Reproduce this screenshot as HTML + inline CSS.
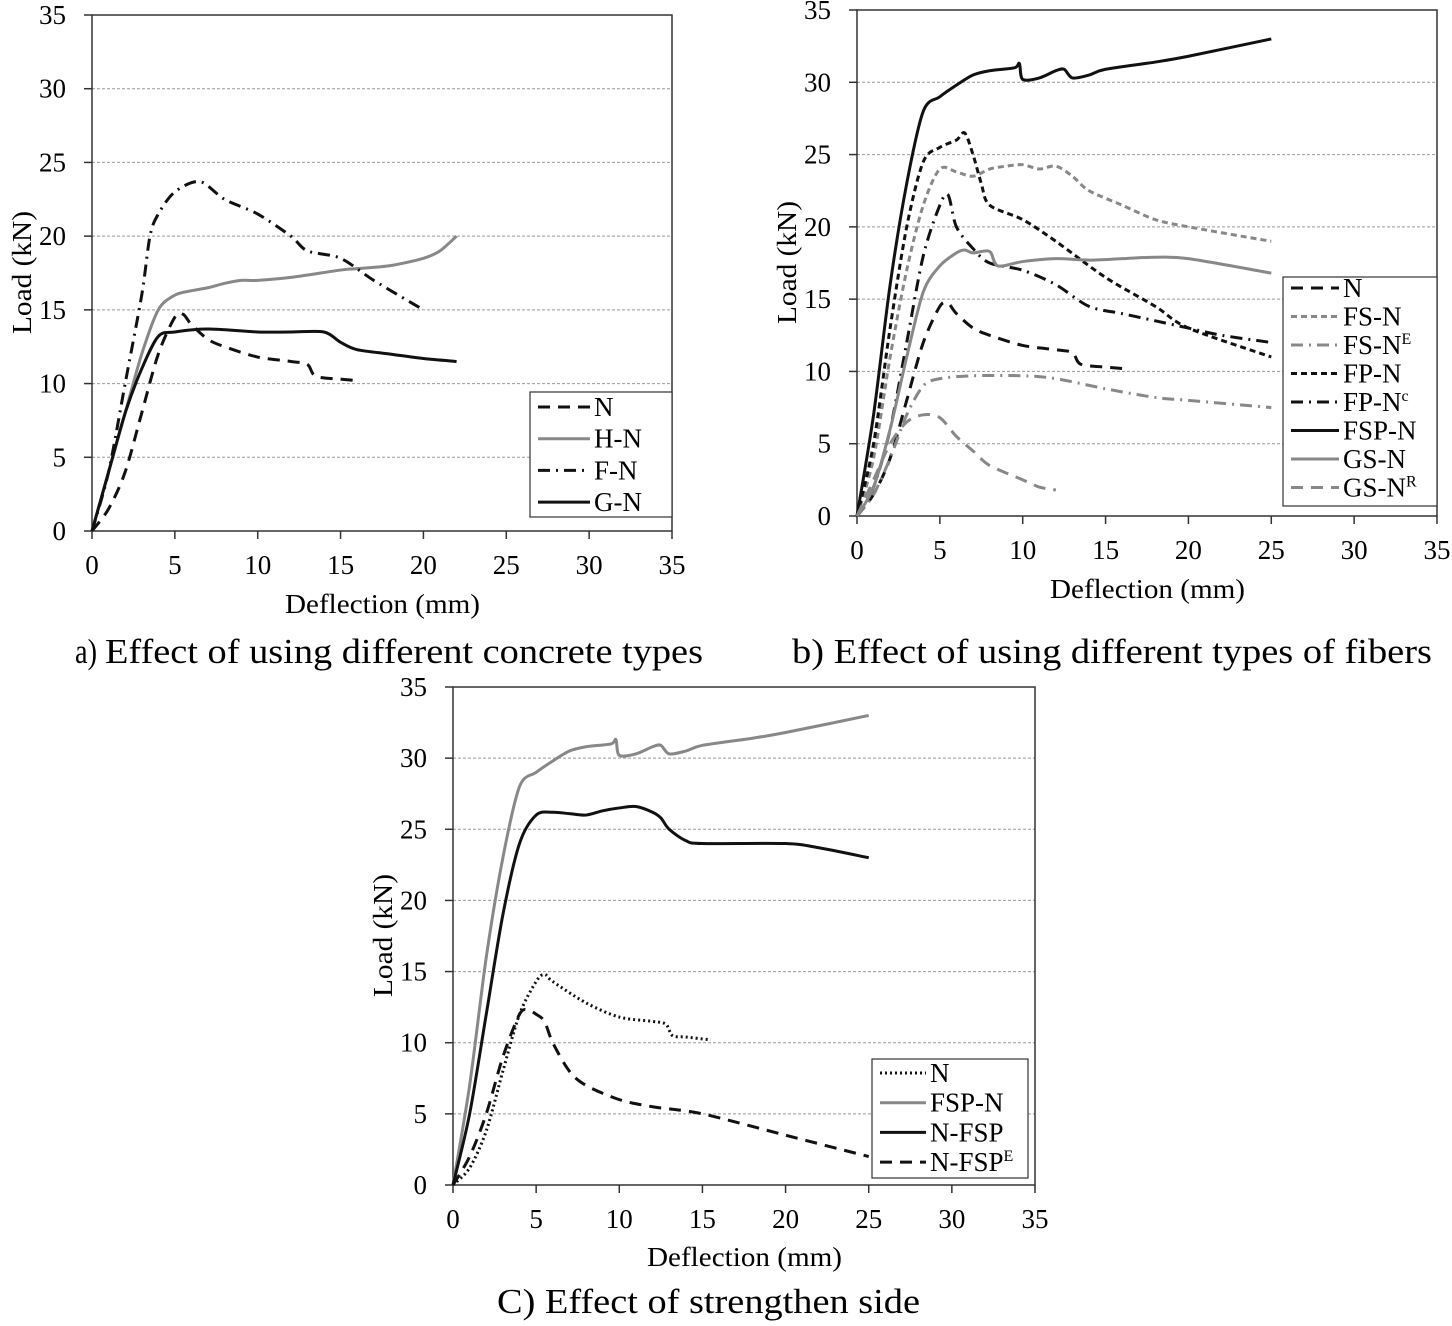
<!DOCTYPE html>
<html><head><meta charset="utf-8"><style>
body{margin:0;background:#fff}
svg{display:block;font-family:"Liberation Serif",serif}
</style></head><body>
<svg id="s" width="1452" height="1326" viewBox="0 0 1452 1326">
<text x="75" y="663" font-size="35" textLength="22" lengthAdjust="spacingAndGlyphs">a)</text>
<text x="105" y="663" font-size="35" textLength="598" lengthAdjust="spacingAndGlyphs">Effect of using different concrete types</text>
<text x="792" y="663" font-size="35" textLength="640" lengthAdjust="spacingAndGlyphs">b) Effect of using different types of fibers</text>
<text x="497" y="1313" font-size="35" textLength="423" lengthAdjust="spacingAndGlyphs">C) Effect of strengthen side</text>
</svg>
<script>
const ticks=[0,5,10,15,20,25,30,35];
const aN=[[0,0],[1,1.5],[2,4],[3,8],[4,12],[5,14.5],[5.5,14.7],[6,14],[7,13],[8,12.5],[10,11.8],[12,11.5],[13,11.3],[13.5,10.5],[15,10.3],[16,10.2]];
const aHN=[[0,0],[1,4],[2,8],[3,12],[4,15],[5,16],[6,16.3],[7,16.5],[8,16.8],[9,17],[10,17],[12,17.2],[15,17.7],[16,17.8],[18,18],[20,18.5],[21,19],[22,20]];
const aFN=[[0,0],[1,4],[2,10],[3,16],[3.5,20],[4,21.5],[5,23],[6.5,23.7],[8,22.5],[10,21.5],[12,20],[13,19],[15,18.5],[17,17],[20,15]];
const aGN=[[0,0],[1,4],[2,8],[3,11],[4,13.2],[5,13.5],[7,13.7],[10,13.5],[12,13.5],[14,13.5],[15,12.8],[16,12.3],[18,12],[20,11.7],[22,11.5]];
const bFSN=[[0,0],[1,4],[2,11],[3,17],[4,21.5],[5,24],[6,23.8],[7,23.5],[8,24],[9,24.2],[10,24.3],[11,24],[12,24.2],[13,23.5],[14,22.5],[16,21.5],[18,20.5],[20,20],[25,19]];
const bFSNE=[[0,0],[1,1.5],[2,4],[3,7],[4,9],[5,9.5],[7,9.7],[10,9.7],[12,9.5],[15,8.8],[18,8.2],[20,8],[25,7.5]];
const bFPN=[[0,0],[1,5],[2,13],[3,20],[4,24.5],[5,25.5],[6,26],[6.5,26.5],[7,25],[7.5,23],[8,21.5],[10,20.5],[12,19],[15,16.5],[18,14.5],[20,13],[25,11]];
const bFPNc=[[0,0],[1,2],[2,6],[3,12],[4,18],[5,21.5],[5.5,22.2],[6,20],[7,18.5],[8,17.5],[10,17],[12,16],[14,14.5],[16,14],[18,13.5],[20,13],[22,12.5],[25,12]];
const bFSPN=[[0,0],[1,7],[2,16],[3,23],[4,28],[5,29],[6,29.8],[7,30.5],[8,30.8],[9.5,31],[9.8,31.3],[10,30.2],[11,30.3],[12,30.8],[12.5,30.9],[13,30.3],[14,30.5],[15,30.9],[18,31.4],[20,31.8],[25,33]];
const bGSN=[[0,0],[1,2],[2,6],[3,11],[4,15.5],[5,17.3],[6,18.2],[6.5,18.4],[7,18.2],[8,18.3],[8.5,17.3],[10,17.6],[12,17.8],[14,17.7],[16,17.8],[18,17.9],[20,17.8],[25,16.8]];
const bGSNR=[[0,0],[1,2.5],[2,5],[3,6.5],[4,7],[5,6.8],[6,5.5],[7,4.5],[8,3.5],[10,2.5],[11,2],[12,1.8]];
const cN=[[0,0],[1,1.2],[2,3.8],[3,8],[4,12],[5,14.3],[5.5,14.8],[6,14.3],[8,12.8],[10,11.8],[12,11.5],[12.8,11.3],[13.2,10.5],[14,10.4],[15.5,10.2]];
const cNFSP=[[0,0],[1,5],[2,12],[3,19],[4,24],[5,26],[6,26.2],[7,26.1],[8,26],[9,26.3],[10,26.5],[11,26.6],[12,26.2],[12.5,25.8],[13,25],[14,24.2],[15,24],[20,24],[22,23.7],[25,23]];
const cNFSPE=[[0,0],[1,2],[2,5],[3,9],[4,12],[4.5,12.3],[5,12],[5.5,11.5],[6,10],[7,8],[8,7],[10,6],[12,5.5],[15,5],[20,3.5],[25,2]];

const S=document.getElementById('s'),NS='http://www.w3.org/2000/svg';
function mk(t,a,p){const e=document.createElementNS(NS,t);for(const k in a)e.setAttribute(k,a[k]);(p||S).appendChild(e);return e;}
const BLK='#111',GRY='#888';
const st={
 longdash:{c:BLK,d:'12 8'},short:{c:BLK,d:'6 4'},dashdot:{c:BLK,d:'12 6 2 6'},solid:{c:BLK,d:''},
 gsolid:{c:GRY,d:''},gshort:{c:GRY,d:'6 4'},gdashdot:{c:GRY,d:'12 6 2 6'},glong:{c:GRY,d:'12 8'},dot:{c:BLK,d:'2 3'}
};
function smooth(P){
 let d='M'+P[0][0]+','+P[0][1];
 for(let i=0;i<P.length-1;i++){
  const p0=P[Math.max(0,i-1)],p1=P[i],p2=P[i+1],p3=P[Math.min(P.length-1,i+2)];
  const k=0.15;
  d+=` C${p1[0]+(p2[0]-p0[0])*k},${p1[1]+(p2[1]-p0[1])*k} ${p2[0]-(p3[0]-p1[0])*k},${p2[1]-(p3[1]-p1[1])*k} ${p2[0]},${p2[1]}`;
 }
 return d;
}
function chart(id,x0,x1,y0,y1,xty,series,leg){
 const g=mk('g',{});
 
 
 const X=v=>x0+(x1-x0)*v/35, Y=v=>y0-(y0-y1)*v/35;
 ticks.forEach(t=>{
  if(t>0&&t<35){const l=mk('line',{x1:x0,x2:x1,y1:Y(t),y2:Y(t),stroke:'#999','stroke-width':1,'stroke-dasharray':'3 2'},g);
   }
  mk('line',{x1:x0-8,x2:x0,y1:Y(t),y2:Y(t),stroke:'#333','stroke-width':1.5},g);
  mk('line',{x1:X(t),x2:X(t),y1:y0,y2:y0+8,stroke:'#333','stroke-width':1.5},g);
  const ty=mk('text',{x:x0-26,y:Y(t)+9,'font-size':27,'text-anchor':'end'},g);ty.textContent=t;
  
  const tx=mk('text',{x:X(t),y:y0+43,'font-size':27,'text-anchor':'middle'},g);tx.textContent=t;
  
 });
 const fr=mk('rect',{x:x0,y:y1,width:x1-x0,height:y0-y1,fill:'none',stroke:'#333','stroke-width':1.5},g);
 
 const xa=mk('text',{x:(x0+x1)/2-97,y:xty,'font-size':27,textLength:195,lengthAdjust:'spacingAndGlyphs'},g);xa.textContent='Deflection (mm)';
 
 const cy=(y0+y1)/2,cx=x0-61;
 const ya=mk('text',{x:cx-61,y:cy,'font-size':27,textLength:123,lengthAdjust:'spacingAndGlyphs',transform:`rotate(-90 ${cx} ${cy})`},g);ya.textContent='Load (kN)';
 
 series.forEach(s=>{
  const p=mk('path',{d:smooth(s.d.map(q=>[X(q[0]),Y(q[1])])),fill:'none',stroke:st[s.s].c,'stroke-width':3,'stroke-dasharray':st[s.s].d,'stroke-linejoin':'round'},g);
  
 });
 const lg=mk('g',{},g);
 
 mk('rect',{x:leg.x,y:leg.y,width:leg.w,height:leg.h,fill:'#fff',stroke:'#333','stroke-width':1.2},lg);
 series.forEach((s,i)=>{
  const yy=leg.y+leg.f+i*leg.r;
  mk('line',{x1:leg.x+8,x2:leg.x+leg.t-4,y1:yy,y2:yy,stroke:st[s.s].c,'stroke-width':3,'stroke-dasharray':st[s.s].d},lg);
  const t=mk('text',{x:leg.x+leg.t,y:yy+9,'font-size':27},lg);
  
  t.textContent=s.n;
  if(s.sup){const sp=mk('tspan',{'font-size':16,dy:-10},t);sp.textContent=s.sup;}
 });
}
chart('chart-a',92,672,531,15,613,[
 {n:'N',d:aN,s:'longdash'},{n:'H-N',d:aHN,s:'gsolid'},{n:'F-N',d:aFN,s:'dashdot'},{n:'G-N',d:aGN,s:'solid'}],
 {x:530,y:392,w:142,h:125,r:31.7,f:15,t:64});
chart('chart-b',857,1437,516,10,598,[
 {n:'N',d:aN,s:'longdash'},{n:'FS-N',d:bFSN,s:'gshort'},{n:'FS-N',sup:'E',d:bFSNE,s:'gdashdot'},{n:'FP-N',d:bFPN,s:'short'},
 {n:'FP-N',sup:'c',d:bFPNc,s:'dashdot'},{n:'FSP-N',d:bFSPN,s:'solid'},{n:'GS-N',d:bGSN,s:'gsolid'},{n:'GS-N',sup:'R',d:bGSNR,s:'glong'}],
 {x:1283,y:277,w:154,h:229,r:28.5,f:11,t:60});
chart('chart-c',453,1035,1185,687,1266,[
 {n:'N',d:cN,s:'dot'},{n:'FSP-N',d:bFSPN,s:'gsolid'},{n:'N-FSP',d:cNFSP,s:'solid'},{n:'N-FSP',sup:'E',d:cNFSPE,s:'longdash'}],
 {x:872,y:1059,w:156,h:119,r:29.7,f:14,t:58});
</script>
</body></html>
